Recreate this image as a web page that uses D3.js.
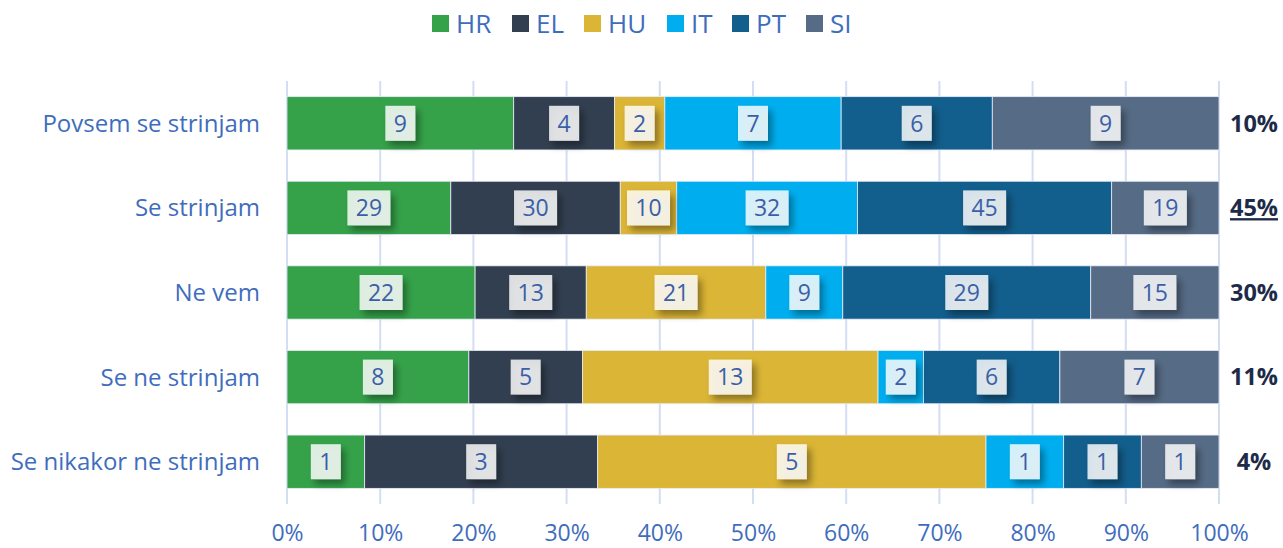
<!DOCTYPE html>
<html><head><meta charset="utf-8">
<script src="https://cdn.jsdelivr.net/npm/d3@7"></script>
<style>
body{margin:0;background:#fff;}
svg{font-family:"Open Sans",sans-serif;}
</style></head>
<body><svg id="c" width="1283" height="548"></svg>
<script>
const categories = ["Povsem se strinjam","Se strinjam","Ne vem","Se ne strinjam","Se nikakor ne strinjam"];
const seriesNames = ["HR","EL","HU","IT","PT","SI"];
const colors = ["#35a24a","#323f50","#dbb536","#00aeef","#125e8c","#566b85"];
const HR = [9,29,22,8,1];
const EL = [4,30,13,5,3];
const HU = [2,10,21,13,5];
const IT = [7,32,9,2,1];
const PT = [6,45,29,6,1];
const SI = [9,19,15,7,1];
const totalLabels = ["10%","45%","30%","11%","4%"];
const underlined = [false,true,false,false,false];
const xTicks = [0,0.1,0.2,0.3,0.4,0.5,0.6,0.7,0.8,0.9,1];

const seriesVals = [HR,EL,HU,IT,PT,SI];
const rows = categories.map((c,i)=>{
  const o={cat:c};
  seriesNames.forEach((s,j)=>o[s]=seriesVals[j][i]);
  return o;
});
const stack = d3.stack().keys(seriesNames).offset(d3.stackOffsetExpand)(rows);

const svg = d3.select("#c");
const x = d3.scaleLinear().domain([0,1]).range([287,1219]);
const y = d3.scaleBand().domain(categories).range([81,504]).paddingInner(0.37).paddingOuter(0.185);
const textBlue = "#3f6dbd";

const defs = svg.append("defs");
const f = defs.append("filter").attr("id","sh").attr("x","-50%").attr("y","-50%").attr("width","200%").attr("height","200%");
f.append("feDropShadow").attr("dx",4).attr("dy",5).attr("stdDeviation",3.5).attr("flood-color","#000").attr("flood-opacity",0.45);

// grid
svg.append("g").selectAll("line").data(xTicks).join("line")
  .attr("x1",d=>x(d)).attr("x2",d=>x(d)).attr("y1",81).attr("y2",504)
  .attr("stroke","#d3def2").attr("stroke-width",2);

// bars
const g = svg.append("g");
stack.forEach((layer,j)=>{
  g.append("g").selectAll("rect").data(layer).join("rect")
    .attr("x",d=>x(d[0])).attr("width",d=>x(d[1])-x(d[0]))
    .attr("y",(d,i)=>y(categories[i])).attr("height",y.bandwidth())
    .attr("fill",colors[j]).attr("stroke","#e6ecf7").attr("stroke-width",0.8);
});

// labels
stack.forEach((layer,j)=>{
  layer.forEach((d,i)=>{
    const v = seriesVals[j][i];
    const cx = (x(d[0])+x(d[1]))/2;
    const cy = y(categories[i])+y.bandwidth()/2;
    const t = String(v);
    const w = t.length===1?30:43;
    const h = 35;
    const lg = g.append("g");
    lg.append("rect").attr("x",cx-w/2).attr("y",cy-h/2).attr("width",w).attr("height",h)
      .attr("fill","#fff").attr("fill-opacity",0.82).attr("filter","url(#sh)");
    lg.append("text").attr("x",cx).attr("y",cy).attr("dy","0.36em").attr("text-anchor","middle")
      .attr("font-size",23).attr("fill","#3a5fa8").text(t);
  });
});

// category labels
svg.append("g").selectAll("text").data(categories).join("text")
  .attr("x",260).attr("y",d=>y(d)+y.bandwidth()/2).attr("dy","0.35em")
  .attr("text-anchor","end").attr("font-size",24).attr("fill",textBlue).text(d=>d);

// total labels
svg.append("g").selectAll("text").data(categories).join("text")
  .attr("x",1254).attr("y",d=>y(d)+y.bandwidth()/2).attr("dy","0.35em")
  .attr("text-anchor","middle").attr("font-size",23.5).attr("font-weight","bold").attr("fill","#1e2b48")
  .attr("text-decoration",(d,i)=>underlined[i]?"underline":null)
  .text((d,i)=>totalLabels[i]);

// x axis
const ax = svg.append("g").attr("transform","translate(0,504)")
  .call(d3.axisBottom(x).tickValues(xTicks).tickFormat(d3.format(".0%")).tickSize(0).tickPadding(21));
ax.select(".domain").remove();
ax.selectAll("text").attr("font-size",23).attr("fill",textBlue).attr("font-family","Open Sans");

// legend
const leg = svg.append("g");
const legX = [432,512,584,667,732,806];
seriesNames.forEach((s,j)=>{
  leg.append("rect").attr("x",legX[j]).attr("y",15).attr("width",17).attr("height",17).attr("fill",colors[j]);
  leg.append("text").attr("x",legX[j]+24).attr("y",24).attr("dy","0.36em").attr("font-size",26).attr("fill",textBlue).text(s);
});
</script></body></html>
